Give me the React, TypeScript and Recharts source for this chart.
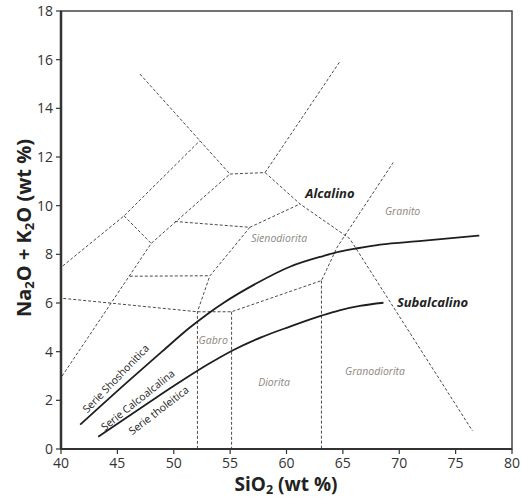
import React from 'react';
import { ComposedChart, Line, Scatter, XAxis, YAxis, ReferenceArea } from 'recharts';

const FONT = '"Open Sans", "Noto Sans", sans-serif';

// axis ticks
const xTicks = [40, 45, 50, 55, 60, 65, 70, 75, 80];
const yTicks = [0, 2, 4, 6, 8, 10, 12, 14, 16, 18];

// solid boundaries between the series
const alkalineCurve = [
  { x: 41.7, y: 1.0 }, { x: 46, y: 2.8 }, { x: 49, y: 4.02 }, { x: 51.4, y: 4.98 },
  { x: 53, y: 5.55 }, { x: 54.4, y: 6.0 }, { x: 57.35, y: 6.81 }, { x: 60.3, y: 7.49 },
  { x: 63.25, y: 7.93 }, { x: 64.7, y: 8.11 }, { x: 66.3, y: 8.25 }, { x: 68.3, y: 8.4 },
  { x: 72, y: 8.55 }, { x: 77.1, y: 8.77 },
];
const subalkalineCurve = [
  { x: 43.3, y: 0.5 }, { x: 47.7, y: 1.88 }, { x: 50.5, y: 2.74 }, { x: 53, y: 3.47 },
  { x: 55.3, y: 4.07 }, { x: 57.8, y: 4.6 }, { x: 60.3, y: 5.03 }, { x: 63.1, y: 5.48 },
  { x: 64.7, y: 5.7 }, { x: 66.5, y: 5.88 }, { x: 68.6, y: 6.01 },
];

// dashed field boundaries
const outerLeft = [{ x: 40.15, y: 7.52 }, { x: 45.59, y: 9.58 }, { x: 52.32, y: 12.67 }];
const leftTie = [{ x: 45.59, y: 9.58 }, { x: 48.0, y: 8.45 }];
const innerLeft = [{ x: 40.1, y: 3.0 }, { x: 48.0, y: 8.45 }, { x: 54.98, y: 11.3 }];
const upperDiagonal = [{ x: 47.0, y: 15.41 }, { x: 54.98, y: 11.3 }];
const topBar = [{ x: 54.98, y: 11.3 }, { x: 58.1, y: 11.36 }];
const upperRight = [{ x: 58.1, y: 11.36 }, { x: 64.73, y: 15.92 }];
const alkaliDivide = [{ x: 58.1, y: 11.36 }, { x: 61.2, y: 10.07 }, { x: 65.6, y: 8.65 }, { x: 76.5, y: 0.74 }];
const syenoTop = [{ x: 50.1, y: 9.35 }, { x: 56.75, y: 9.11 }, { x: 61.2, y: 10.07 }];
const gabbroEdge = [{ x: 56.75, y: 9.11 }, { x: 53.2, y: 7.11 }, { x: 52.1, y: 5.64 }, { x: 52.1, y: 0 }];
const midBar = [{ x: 46.1, y: 7.1 }, { x: 53.2, y: 7.12 }];
const lowBar = [
  { x: 40.2, y: 6.19 }, { x: 52.1, y: 5.64 }, { x: 55.13, y: 5.64 }, { x: 63.1, y: 6.92 },
  { x: 64.5, y: 8.3 }, { x: 69.46, y: 11.77 },
];
const diorite55 = [{ x: 55.13, y: 5.64 }, { x: 55.13, y: 0 }];
const diorite63 = [{ x: 63.1, y: 6.92 }, { x: 63.1, y: 0 }];

const dashed = [
  outerLeft, leftTie, innerLeft, upperDiagonal, topBar, upperRight, alkaliDivide,
  syenoTop, gabbroEdge, midBar, lowBar, diorite55, diorite63,
];

// text in the plot
const seriesNames = [
  { x: 63.85, y: 10.53, text: 'Alcalino' },
  { x: 72.95, y: 6.05, text: 'Subalcalino' },
];
const rockNames = [
  { x: 59.35, y: 8.66, text: 'Sienodiorita' },
  { x: 70.3, y: 9.8, text: 'Granito' },
  { x: 53.5, y: 4.5, text: 'Gabro' },
  { x: 58.9, y: 2.75, text: 'Diorita' },
  { x: 67.85, y: 3.22, text: 'Granodiorita' },
];
const trendNames = [
  { x: 44.85, y: 2.9, text: 'Serie Shoshonitica' },
  { x: 46.8, y: 2.02, text: 'Serie Calcoalcalina' },
  { x: 48.65, y: 1.6, text: 'Serie tholeitica' },
];
const trendAngle: Record<string, number> = {
  'Serie Shoshonitica': -46,
  'Serie Calcoalcalina': -38.5,
  'Serie tholeitica': -37.5,
};

const App = () => {
  return (
    <div style={{ position: 'absolute', left: 0, top: 0 }}>
      <ComposedChart width={521} height={499} margin={{ top: 11, right: 9, bottom: 0, left: 0 }}>
        <XAxis
          dataKey="x"
          type="number"
          domain={[40, 80]}
          ticks={xTicks}
          allowDataOverflow
          height={50}
          tickSize={5}
          tickMargin={4}
          axisLine={{ stroke: '#333', strokeWidth: 2.2 }}
          tickLine={{ stroke: '#333', strokeWidth: 1.2 }}
          tick={{ fill: '#333', fontSize: 14, fontFamily: FONT }}
          label={{
            content: () => (
              <text x={286} y={491} textAnchor="middle" fontFamily={FONT} fontWeight={700} fontSize={19} fill="#222">
                <tspan>SiO</tspan>
                <tspan fontSize={12.5} dy={3}>2</tspan>
                <tspan dy={-3}> (wt %)</tspan>
              </text>
            ),
          }}
        />
        <YAxis
          dataKey="y"
          type="number"
          domain={[0, 18]}
          ticks={yTicks}
          allowDataOverflow
          width={61}
          tickSize={5}
          tickMargin={3}
          axisLine={{ stroke: '#333', strokeWidth: 2.5 }}
          tickLine={{ stroke: '#333', strokeWidth: 1.2 }}
          tick={{ fill: '#333', fontSize: 14, fontFamily: FONT }}
          label={{
            content: () => (
              <text
                x={0}
                y={0}
                transform="translate(31 228) rotate(-90)"
                textAnchor="middle"
                fontFamily={FONT}
                fontWeight={700}
                fontSize={20}
                fill="#222"
              >
                <tspan>Na</tspan>
                <tspan fontSize={13} dy={3}>2</tspan>
                <tspan dy={-3}>O + K</tspan>
                <tspan fontSize={13} dy={3}>2</tspan>
                <tspan dy={-3}>O (wt %)</tspan>
              </text>
            ),
          }}
        />
        <ReferenceArea x1={40} x2={80} y1={0} y2={18} fill="none" stroke="#444" strokeWidth={1.5} />

        {dashed.map((seg, i) => (
          <Line
            key={`d-${i}`}
            data={seg}
            dataKey="y"
            type="linear"
            stroke="#4a4a4a"
            strokeWidth={1}
            strokeDasharray="3 2"
            dot={false}
            activeDot={false}
            isAnimationActive={false}
          />
        ))}

        <Line data={alkalineCurve} dataKey="y" type="monotone" stroke="#1e1e1e" strokeWidth={1.8} dot={false} activeDot={false} isAnimationActive={false} />
        <Line data={subalkalineCurve} dataKey="y" type="monotone" stroke="#1e1e1e" strokeWidth={1.8} dot={false} activeDot={false} isAnimationActive={false} />

        <Scatter
          data={seriesNames}
          isAnimationActive={false}
          shape={(p: any) => (
            <text x={p.cx} y={p.cy} textAnchor="middle" dominantBaseline="central" fontFamily={FONT} fontSize={13} fontWeight={700} fontStyle="italic" fill="#222">
              {p.payload.text}
            </text>
          )}
        />
        <Scatter
          data={rockNames}
          isAnimationActive={false}
          shape={(p: any) => (
            <text x={p.cx} y={p.cy} textAnchor="middle" dominantBaseline="central" fontFamily={FONT} fontSize={10.5} fontStyle="italic" fill="#8e8781">
              {p.payload.text}
            </text>
          )}
        />
        <Scatter
          data={trendNames}
          isAnimationActive={false}
          shape={(p: any) => (
            <text
              x={p.cx}
              y={p.cy}
              transform={`rotate(${trendAngle[p.payload.text]} ${p.cx} ${p.cy})`}
              textAnchor="middle"
              dominantBaseline="central"
              fontFamily={FONT}
              fontSize={10.5}
              fill="#222"
            >
              {p.payload.text}
            </text>
          )}
        />
      </ComposedChart>
    </div>
  );
};

export default App;
